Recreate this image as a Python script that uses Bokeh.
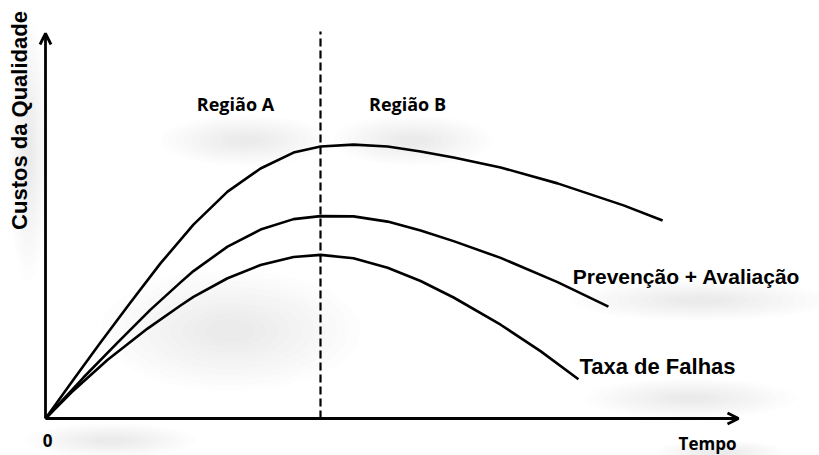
from bokeh.plotting import figure
from bokeh.models import Range1d, Arrow, OpenHead
from bokeh.core.properties import value
from bokeh.embed import file_html
from bokeh.resources import INLINE

# ---- data (time units, cost units) ----
top_t = [0, 1.02, 2.00, 3.09, 4.18, 5.38, 6.62, 7.82, 9.02, 10.0, 11.2, 12.44, 13.64, 14.84, 16.55, 18.62, 21.02, 22.44]
top_c = [0, 1.42, 2.76, 4.22, 5.64, 7.05, 8.25, 9.09, 9.67, 9.89, 9.96, 9.89, 9.71, 9.49, 9.13, 8.55, 7.75, 7.20]

prev_t = [0, 1.38, 2.62, 3.82, 4.91, 5.38, 6.62, 7.82, 9.02, 10.0, 11.2, 12.44, 13.64, 14.84, 16.55, 18.62, 20.47]
prev_c = [0, 1.49, 2.76, 3.96, 4.95, 5.36, 6.25, 6.87, 7.25, 7.36, 7.35, 7.16, 6.84, 6.45, 5.84, 4.96, 4.07]

fail_t = [0, 1.02, 2.25, 3.71, 4.91, 5.38, 6.62, 7.82, 9.02, 10.0, 11.2, 12.44, 13.64, 14.84, 16.55, 18.0, 19.38]
fail_c = [0, 1.02, 2.13, 3.27, 4.11, 4.42, 5.10, 5.58, 5.87, 5.95, 5.83, 5.48, 5.00, 4.40, 3.41, 2.45, 1.43]

region_split = 10.0
x_axis_end = 25.2
y_axis_end = 14.0
dash_top = 14.07

W, H = 819, 455
PX = 27.5  # pixels per unit
p = figure(width=W, height=H, output_backend="svg", toolbar_location=None,
           x_range=Range1d(-45 / PX, (W - 45) / PX),
           y_range=Range1d(-(H - 418) / PX, 418 / PX),
           min_border=0)
p.axis.visible = False
p.grid.visible = False
p.outline_line_color = None
p.background_fill_color = "white"
p.border_fill_color = "white"


def tx(px):
    return (px - 45) / PX


def ty(py):
    return (418 - py) / PX


# soft shadows (decorative haze)
shadows = [(245, 140, 170, 50), (412, 140, 160, 50), (700, 300, 260, 40),
           (690, 398, 210, 40), (28, 150, 40, 260), (110, 440, 170, 34),
           (720, 452, 130, 24), (230, 330, 260, 120)]
N = 10
for (cx, cy, w, h) in shadows:
    for k in range(N):
        f = 1 - k * 0.09
        p.ellipse([tx(cx)], [ty(cy)], width=w * f / PX, height=h * f / PX,
                  fill_color="#808080", fill_alpha=0.018, line_color=None)

# curves
for tt, cc in [(top_t, top_c), (prev_t, prev_c), (fail_t, fail_c)]:
    p.line(tt, cc, line_color="black", line_width=2.6, line_join="round")

# dashed divider
p.line([region_split, region_split], [0, dash_top], line_color="black",
       line_width=2.2, line_dash="8 4")

# axes with arrows
p.add_layout(Arrow(end=OpenHead(size=11, line_width=2.8, line_color="black"),
                   x_start=0, y_start=0, x_end=x_axis_end, y_end=0,
                   line_width=2.8, line_color="black"))
p.add_layout(Arrow(end=OpenHead(size=11, line_width=2.8, line_color="black"),
                   x_start=0, y_start=0, x_end=0, y_end=y_axis_end,
                   line_width=2.8, line_color="black"))

arial = value("Liberation Sans")
cal = value("Open Sans")

p.text([tx(19)], [ty(120)], text=["Custos da Qualidade"], angle=1.5708,
       text_font=arial, text_font_style="bold", text_font_size="22px",
       text_align="center", text_baseline="middle", text_color="black")
p.text([tx(686)], [ty(276)], text=["Prevenção + Avaliação"],
       text_font=arial, text_font_style="bold", text_font_size="21px",
       text_align="center", text_baseline="middle", text_color="black")
p.text([tx(657)], [ty(366)], text=["Taxa de Falhas"],
       text_font=arial, text_font_style="bold", text_font_size="22px",
       text_align="center", text_baseline="middle", text_color="black")
p.text([tx(235), tx(407)], [ty(103), ty(103)], text=["Região A", "Região B"],
       text_font=cal, text_font_style="bold", text_font_size="18px",
       text_align="center", text_baseline="middle", text_color="black")
p.text([tx(707)], [ty(443)], text=["Tempo"],
       text_font=cal, text_font_style="bold", text_font_size="17px",
       text_align="center", text_baseline="middle", text_color="black")
p.text([tx(47)], [ty(440)], text=["0"],
       text_font=cal, text_font_style="bold", text_font_size="17px",
       text_align="center", text_baseline="middle", text_color="black")

open("out.html", "w").write(file_html(p, INLINE))
